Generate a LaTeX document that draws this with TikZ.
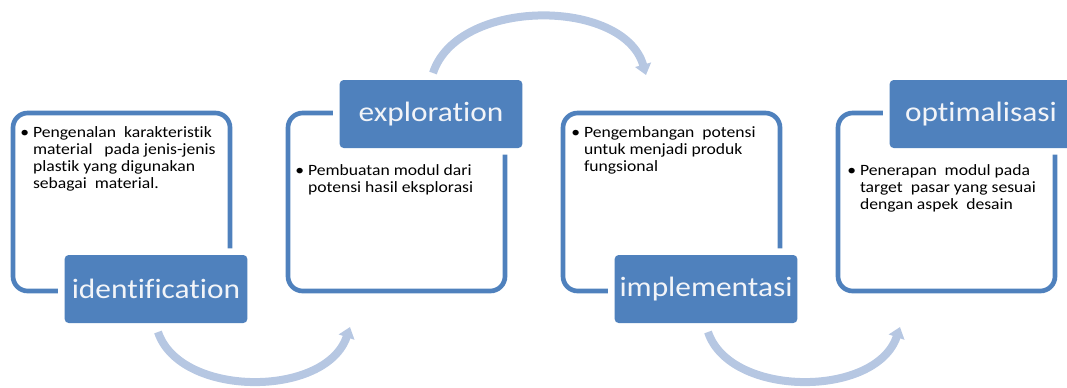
\documentclass[tikz,border=0pt]{standalone}
\usepackage{fontspec}
\newfontfamily\stagefont{Carlito}[FakeStretch=1.12, Ligatures={NoCommon}]
\usepackage{tikz}
\usetikzlibrary{arrows.meta}
\definecolor{stageblue}{RGB}{79,129,189}
\definecolor{arcblue}{RGB}{182,199,226}
\definecolor{labelwhite}{RGB}{242,244,248}

\begin{document}
\begin{tikzpicture}[x=0.75pt, y=-0.75pt,
	frame/.style={draw=stageblue, line width=3.5pt, rounded corners=11pt},
	stagelabel/.style={fill=stageblue, rounded corners=3pt, minimum width=137pt, minimum height=51pt, inner sep=0pt, text=labelwhite, font=\stagefont\fontsize{21}{24}\selectfont, preaction={draw=white, line width=10pt}},
	stagetext/.style={anchor=north west, inner sep=0pt, align=left, font=\stagefont\fontsize{11.8}{12.75}\selectfont},
	turnarrow/.style={draw=arcblue, line width=6pt, -{Triangle[width=12pt,length=8pt]}}]
	% Fix the size of the picture
	\useasboundingbox (0,0) rectangle (1067,387);
	% Define the distance between stages
	\newcommand\StageGap{275}
	
	% Draw the frames
	\foreach \i in {0,...,3} {
		\pgfmathsetmacro\Shift{\i*\StageGap}
		\draw[frame] (13+\Shift,113) rectangle ++(217,178);
	}
	
	% Draw the stage labels, alternating bottom and top
	\foreach \i/\name/\ypos/\word in {0/ident/289/identification, 1/explor/114/exploration, 2/impl/289/implementasi, 3/optim/114/optimalisasi} {
		\pgfmathsetmacro\Shift{\i*\StageGap}
		\node[stagelabel] (\name) at (156+\Shift,\ypos) {\word};
	}
	
	% Add the bullet texts
	\node[stagetext] (ident-text) at (20,125) {\textbullet\hspace{3pt}\begin{tabular}[t]{@{}l@{}}Pengenalan\ \ karakteristik\\ material\ \ \ pada jenis-jenis\\ plastik yang digunakan\\ sebagai\ \ material.\end{tabular}};
	\node[stagetext] (explor-text) at (295,163) {\textbullet\hspace{3pt}\begin{tabular}[t]{@{}l@{}}Pembuatan modul dari\\ potensi hasil eksplorasi\end{tabular}};
	\node[stagetext] (impl-text) at (571,125) {\textbullet\hspace{3pt}\begin{tabular}[t]{@{}l@{}}Pengembangan\ \ potensi\\ untuk menjadi produk\\ fungsional\end{tabular}};
	\node[stagetext] (optim-text) at (847,163) {\textbullet\hspace{3pt}\begin{tabular}[t]{@{}l@{}}Penerapan\ \ modul pada\\ target\ \ pasar yang sesuai\\ dengan aspek\ \ desain\end{tabular}};
	
	% Draw the turning arrows between stages
	\coordinate (arc1-start) at (158,332);
	\coordinate (arc1-end) at (350,327);
	\coordinate (arc2-start) at (433,73);
	\coordinate (arc2-end) at (646,75);
	\coordinate (arc3-start) at (708,332);
	\coordinate (arc3-end) at (900,327);
	\draw[turnarrow] (arc1-start) .. controls +(22,66) and +(-24,71) .. (arc1-end);
	\draw[turnarrow] (arc2-start) .. controls +(25,-76) and +(-22,-77) .. (arc2-end);
	\draw[turnarrow] (arc3-start) .. controls +(22,66) and +(-24,71) .. (arc3-end);
\end{tikzpicture}
\end{document}
